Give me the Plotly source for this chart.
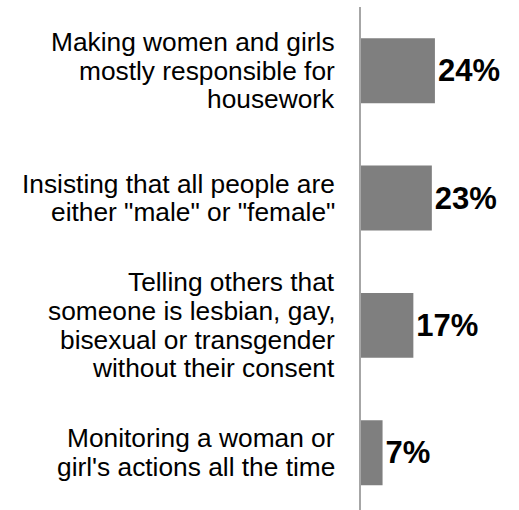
import plotly.graph_objects as go

# Data
label_lines = [
    ["Making women and girls", "mostly responsible for", "housework"],
    ["Insisting that all people are", "either \"male\" or \"female\""],
    ["Telling others that", "someone is lesbian, gay,", "bisexual or transgender", "without their consent"],
    ["Monitoring a woman or", "girl's actions all the time"],
]
categories = [" ".join(lines) for lines in label_lines]
values = [24, 23, 17, 7]
value_labels = ["24%", "23%", "17%", "7%"]

FONT = "Liberation Sans, Arial, sans-serif"
LINE_SPACING = 28.7

fig = go.Figure()
fig.add_trace(go.Bar(
    x=values,
    y=categories,
    orientation="h",
    marker=dict(color="#7f7f7f", line=dict(width=0)),
    text=value_labels,
    textposition="outside",
    textfont=dict(family=FONT, size=31, color="#000000", weight="bold"),
    constraintext="none",
    cliponaxis=False,
    hoverinfo="skip",
))

annotations = []
for cat, lines in zip(categories, label_lines):
    n = len(lines)
    for i, line in enumerate(lines):
        offset = ((n - 1) / 2 - i) * LINE_SPACING
        annotations.append(dict(
            x=0, xref="paper", y=cat, yref="y",
            text=line, showarrow=False,
            xanchor="right", yanchor="middle",
            xshift=-24, yshift=offset,
            font=dict(family=FONT, size=26.3, color="#000000"),
        ))

fig.update_layout(
    width=519, height=510,
    margin=dict(l=361, r=0, t=7, b=0),
    paper_bgcolor="white", plot_bgcolor="white",
    bargap=0.49,
    showlegend=False,
    annotations=annotations,
    xaxis=dict(range=[0, 51.3], visible=False, showgrid=False, zeroline=False),
    yaxis=dict(
        type="category",
        range=[3.45, -0.5],
        showticklabels=False,
        showgrid=False, zeroline=False,
        showline=True, linecolor="#a6a6a6", linewidth=2,
        ticks="",
    ),
)

fig.write_html(
    "out.html",
    config={"displayModeBar": False},
    post_script="document.body.style.margin='0';document.body.style.overflow='hidden';",
)
